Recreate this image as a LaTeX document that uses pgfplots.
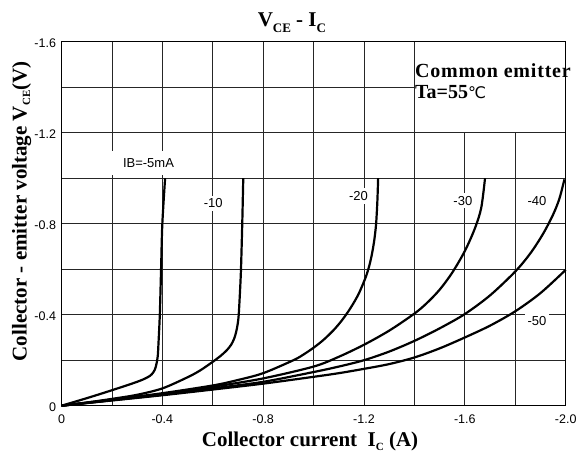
\documentclass[border=0pt]{standalone}
\usepackage{pgfplots}
\pgfplotsset{compat=1.18}
\usepackage{fontspec}
\setmainfont{Liberation Serif}
\newfontfamily\arial{Liberation Sans}
\newfontfamily\dejavu{DejaVu Sans}
\newcommand\sub[2][-3.5pt]{\raisebox{#1}{\fontsize{11}{11}\selectfont #2}}
\begin{document}
\begin{tikzpicture}
\begin{axis}[
  name=ax,
  scale only axis, width=504.2pt, height=364pt,
  x dir=reverse, y dir=reverse,
  xmin=-2, xmax=0, ymin=-1.6, ymax=0,
  xtick={0,-0.4,-0.8,-1.2,-1.6,-2.0},
  xticklabels={0,-0.4,-0.8,-1.2,-1.6,-2.0},
  ytick={0,-0.4,-0.8,-1.2,-1.6},
  yticklabels={0,-0.4,-0.8,-1.2,-1.6},
  minor xtick={-0.2,-0.6,-1.0,-1.4,-1.8},
  minor ytick={-0.2,-0.6,-1.0,-1.4},
  grid=both,
  major grid style={black!85, line width=0.8pt},
  minor grid style={black!85, line width=0.8pt},
  major tick length=0pt, minor tick length=0pt,
  axis line style={black, line width=1.2pt},
  tick label style={font=\arial\fontsize{12.5}{14}\selectfont},
  xticklabel style={yshift=-6pt},
  yticklabel style={xshift=-2pt, yshift=-1.5pt},
  clip=false,
]
% blank box behind the annotation
\fill[white] (axis cs:-1.403,-1.203) rectangle (axis cs:-1.997,-1.597);

% label boxes (gaps in the grid)
\node[fill=white, inner xsep=14pt, minimum height=24pt, font=\arial\fontsize{13}{14}\selectfont] at (axis cs:-0.345,-1.065) {IB=-5mA};
\node[fill=white, inner sep=3pt, font=\arial\fontsize{13}{14}\selectfont] at (axis cs:-0.602,-0.89) {-10};
\node[fill=white, inner sep=3pt, font=\arial\fontsize{13}{14}\selectfont] at (axis cs:-1.178,-0.922) {-20};
\node[fill=white, inner sep=3pt, font=\arial\fontsize{13}{14}\selectfont] at (axis cs:-1.592,-0.901) {-30};
\node[fill=white, inner sep=3pt, font=\arial\fontsize{13}{14}\selectfont] at (axis cs:-1.886,-0.901) {-40};
\node[fill=white, inner sep=3pt, font=\arial\fontsize{13}{14}\selectfont] at (axis cs:-1.886,-0.372) {-50};

% IB = -5 mA
\addplot[black, line width=2.2pt, smooth] coordinates {
(0,0) (-0.1,-0.033) (-0.2,-0.068) (-0.3,-0.105) (-0.34,-0.124) (-0.358,-0.138)
(-0.370,-0.158) (-0.377,-0.185) (-0.382,-0.22) (-0.385,-0.28) (-0.390,-0.4)
(-0.395,-0.6) (-0.400,-0.8) (-0.411,-1.0)};
% IB = -10 mA
\addplot[black, line width=2.2pt, smooth] coordinates {
(0,0) (-0.1,-0.014) (-0.2,-0.03) (-0.3,-0.048) (-0.4,-0.076) (-0.5,-0.125)
(-0.55,-0.155) (-0.6,-0.193) (-0.63,-0.218) (-0.655,-0.243) (-0.673,-0.268)
(-0.685,-0.295) (-0.693,-0.325) (-0.699,-0.36) (-0.703,-0.4) (-0.708,-0.5)
(-0.712,-0.6) (-0.717,-0.8) (-0.721,-1.0)};
% IB = -20 mA
\addplot[black, line width=2.2pt, smooth] coordinates {
(0,0) (-0.2,-0.027) (-0.4,-0.055) (-0.6,-0.089) (-0.7,-0.113) (-0.8,-0.143)
(-0.920,-0.2) (-0.96,-0.225) (-1.0,-0.255) (-1.04,-0.29) (-1.08,-0.333)
(-1.11,-0.372) (-1.135,-0.41) (-1.158,-0.45) (-1.178,-0.49) (-1.196,-0.535)
(-1.21,-0.575) (-1.222,-0.62) (-1.232,-0.67) (-1.241,-0.73) (-1.248,-0.8)
(-1.253,-0.9) (-1.256,-1.0)};
% IB = -30 mA
\addplot[black, line width=2.2pt, smooth] coordinates {
(0,0) (-0.2,-0.025) (-0.4,-0.051) (-0.6,-0.083) (-0.8,-0.12) (-1.0,-0.172)
(-1.1,-0.215) (-1.2,-0.268) (-1.3,-0.33) (-1.4,-0.405) (-1.45,-0.452)
(-1.5,-0.51) (-1.55,-0.585) (-1.6,-0.68) (-1.64,-0.78) (-1.665,-0.87) (-1.68,-1.0)};
% IB = -40 mA
\addplot[black, line width=2.2pt, smooth] coordinates {
(0,0) (-0.2,-0.024) (-0.4,-0.048) (-0.6,-0.076) (-0.8,-0.105) (-1.0,-0.148)
(-1.1,-0.172) (-1.2,-0.2) (-1.3,-0.238) (-1.4,-0.285) (-1.5,-0.34) (-1.6,-0.403)
(-1.7,-0.485) (-1.8,-0.59) (-1.86,-0.67) (-1.91,-0.755) (-1.95,-0.84)
(-1.975,-0.91) (-1.995,-0.995)};
% IB = -50 mA
\addplot[black, line width=2.2pt, smooth] coordinates {
(0,0) (-0.2,-0.023) (-0.4,-0.046) (-0.6,-0.071) (-0.8,-0.097) (-1.0,-0.127)
(-1.1,-0.143) (-1.2,-0.162) (-1.3,-0.183) (-1.4,-0.212) (-1.5,-0.252)
(-1.6,-0.30) (-1.7,-0.352) (-1.8,-0.415) (-1.9,-0.495) (-2.0,-0.597)};

% texts
\node[anchor=base, font=\bfseries\fontsize{21}{24}\selectfont, yshift=15pt]
  at (rel axis cs:0.457,1) {V\sub[-6pt]{\fontsize{13}{13}\selectfont CE} - I\sub[-6pt]{\fontsize{13}{13}\selectfont C}};
\node[anchor=base, font=\bfseries\fontsize{21}{24}\selectfont, yshift=-41pt]
  at (rel axis cs:0.493,0) {Collector current\ \ I\sub{C} (A)};
\node[anchor=base, rotate=90, font=\bfseries\fontsize{21}{24}\selectfont]
  at ([xshift=-34.8pt]rel axis cs:0,0.534) {Collector - emitter voltage V\sub{CE}(V)};
\node[anchor=base west, inner sep=0pt, font=\bfseries\fontsize{20}{22}\selectfont]
  at (rel axis cs:0.701,0.902) {\addfontfeature{LetterSpace=4}Common emitter};
\node[anchor=base west, inner sep=0pt, font=\bfseries\fontsize{20}{22}\selectfont]
  at (rel axis cs:0.701,0.843) {Ta=55{\dejavu\mdseries\fontsize{16}{16}\selectfont ℃}};
\end{axis}
\pgfresetboundingbox
\path[use as bounding box] (ax.south west) ++(-61.5pt,-47.3pt) rectangle ++(581pt,453pt);
\end{tikzpicture}
\end{document}
